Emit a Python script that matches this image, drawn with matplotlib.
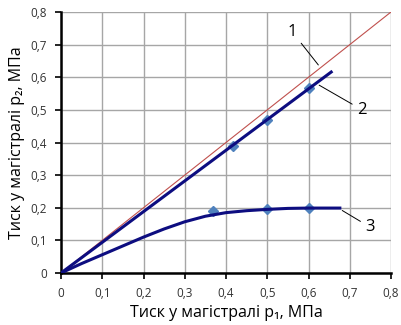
import matplotlib
matplotlib.use("Agg")
import matplotlib.pyplot as plt
import numpy as np

plt.rcParams['font.family'] = ['Open Sans', 'DejaVu Sans']

# reference line 1 (p2 = p1)
line1_x = [0.0, 0.8]
line1_y = [0.0, 0.8]

# curve 2
line2_x = [0.0, 0.655]
line2_y = [0.0, 0.616]
pts2_x = [0.417, 0.5, 0.6]
pts2_y = [0.389, 0.469, 0.567]

# curve 3
line3_x = [0.0, 0.05, 0.1, 0.15, 0.2, 0.25, 0.3, 0.35, 0.4, 0.45, 0.5, 0.55, 0.6, 0.676]
line3_y = [0.0, 0.029, 0.056, 0.083, 0.11, 0.135, 0.157, 0.174, 0.185, 0.191, 0.195, 0.198, 0.199, 0.199]
pts3_x = [0.369, 0.5, 0.6]
pts3_y = [0.19, 0.197, 0.2]

ticks = [0, 0.1, 0.2, 0.3, 0.4, 0.5, 0.6, 0.7, 0.8]
tick_labels = ["0", "0,1", "0,2", "0,3", "0,4", "0,5", "0,6", "0,7", "0,8"]

fig = plt.figure(figsize=(4.02, 3.25), dpi=100)
ax = fig.add_axes([61 / 402, 1 - 273 / 325, 330 / 402, 261 / 325])

ax.plot(line1_x, line1_y, color="#c0504d", lw=0.8, zorder=3)
ax.plot(pts2_x, pts2_y, "D", color="#4f81bd", ms=5, zorder=4)
ax.plot(line2_x, line2_y, color="#0d0d80", lw=2.2, zorder=5)
ax.plot(pts3_x, pts3_y, "D", color="#4f81bd", ms=5, zorder=4)
ax.plot(line3_x, line3_y, color="#0d0d80", lw=2.2, zorder=5)

ax.set_xlim(0, 0.8)
ax.set_ylim(0, 0.8)
ax.set_xticks(ticks)
ax.set_yticks(ticks)
ax.set_xticklabels(tick_labels, fontsize=8.5, color="#333333")
ax.set_yticklabels(tick_labels, fontsize=8.5, color="#333333")
ax.grid(True, color="#a6a6a6", lw=1)
ax.set_axisbelow(True)
for s in ["top", "right"]:
    ax.spines[s].set_visible(False)
for s in ["left", "bottom"]:
    ax.spines[s].set_linewidth(1.8)
ax.tick_params(direction="out", length=4, width=1.2, pad=6)

ax.set_xlabel("Тиск у магістралі p\u2081, МПа", fontsize=11.5, labelpad=4)
ax.set_ylabel("Тиск у магістралі p\u2082, МПа", fontsize=11.5, labelpad=4)

ann = dict(arrowprops=dict(arrowstyle="-", color="black", lw=0.7), fontsize=12)
ax.annotate("1", xy=(0.628, 0.631), xytext=(0.56, 0.74), ha="center", va="center", **ann)
ax.annotate("2", xy=(0.62, 0.58), xytext=(0.73, 0.50), ha="center", va="center", **ann)
ax.annotate("3", xy=(0.676, 0.196), xytext=(0.75, 0.14), ha="center", va="center", **ann)

fig.savefig("out.png", dpi=100)
